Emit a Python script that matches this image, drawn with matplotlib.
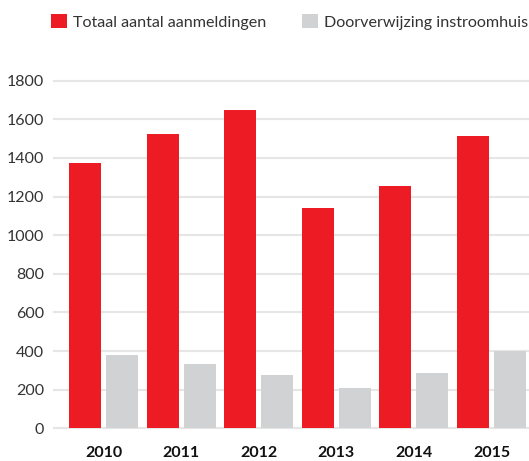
import matplotlib
matplotlib.use("Agg")
import matplotlib.pyplot as plt
import numpy as np

years = ["2010", "2011", "2012", "2013", "2014", "2015"]
totaal = [1375, 1525, 1650, 1140, 1255, 1515]
doorverwijzing = [380, 333, 276, 209, 286, 400]
series_labels = ["Totaal aantal aanmeldingen", "Doorverwijzing instroomhuis"]
yticks = [0, 200, 400, 600, 800, 1000, 1200, 1400, 1600, 1800]

RED = "#ED1C24"
GREY = "#D1D2D4"
TXT = "#333333"

plt.rcParams['font.family'] = ['Lato', 'DejaVu Sans']

fig = plt.figure(figsize=(5.29, 4.61), dpi=100)
ax = fig.add_axes([54/529, 32.7/461, 1 - 54/529, (428.3 - 80.7)/461])

x = np.arange(len(years))
w = 0.412
off = 0.238
b1 = ax.bar(x - off, totaal, width=w, color=RED, zorder=3, label=series_labels[0])
b2 = ax.bar(x + off, doorverwijzing, width=w, color=GREY, zorder=3, label=series_labels[1])

ax.set_xlim(-0.638, 5.483)
ax.set_ylim(0, 1800)
ax.set_yticks(yticks)
ax.set_yticklabels([str(v) for v in yticks], fontsize=11.5, color=TXT)
ax.set_xticks(x)
ax.set_xticklabels(years, fontsize=11.5, fontweight='bold', color="#111111")
ax.tick_params(axis='both', length=0)
ax.tick_params(axis='y', pad=7)
ax.tick_params(axis='x', pad=13)
for s in ax.spines.values():
    s.set_visible(False)
ax.grid(axis='y', color="#E6E6E6", linewidth=1.5, zorder=0)
ax.set_axisbelow(True)
for gl in ax.get_ygridlines():
    gl.set_clip_on(False)

fs = 11.6
leg = fig.legend(handles=[b1, b2], labels=series_labels, ncol=2, frameon=False,
                 loc='center left', bbox_to_anchor=(51/529, 1 - 22/461),
                 fontsize=fs, handlelength=0.99, handleheight=0.99,
                 handletextpad=0.37, columnspacing=2.24, borderpad=0, borderaxespad=0)
for t in leg.get_texts():
    t.set_color(TXT)

fig.savefig("out.png", dpi=100)
